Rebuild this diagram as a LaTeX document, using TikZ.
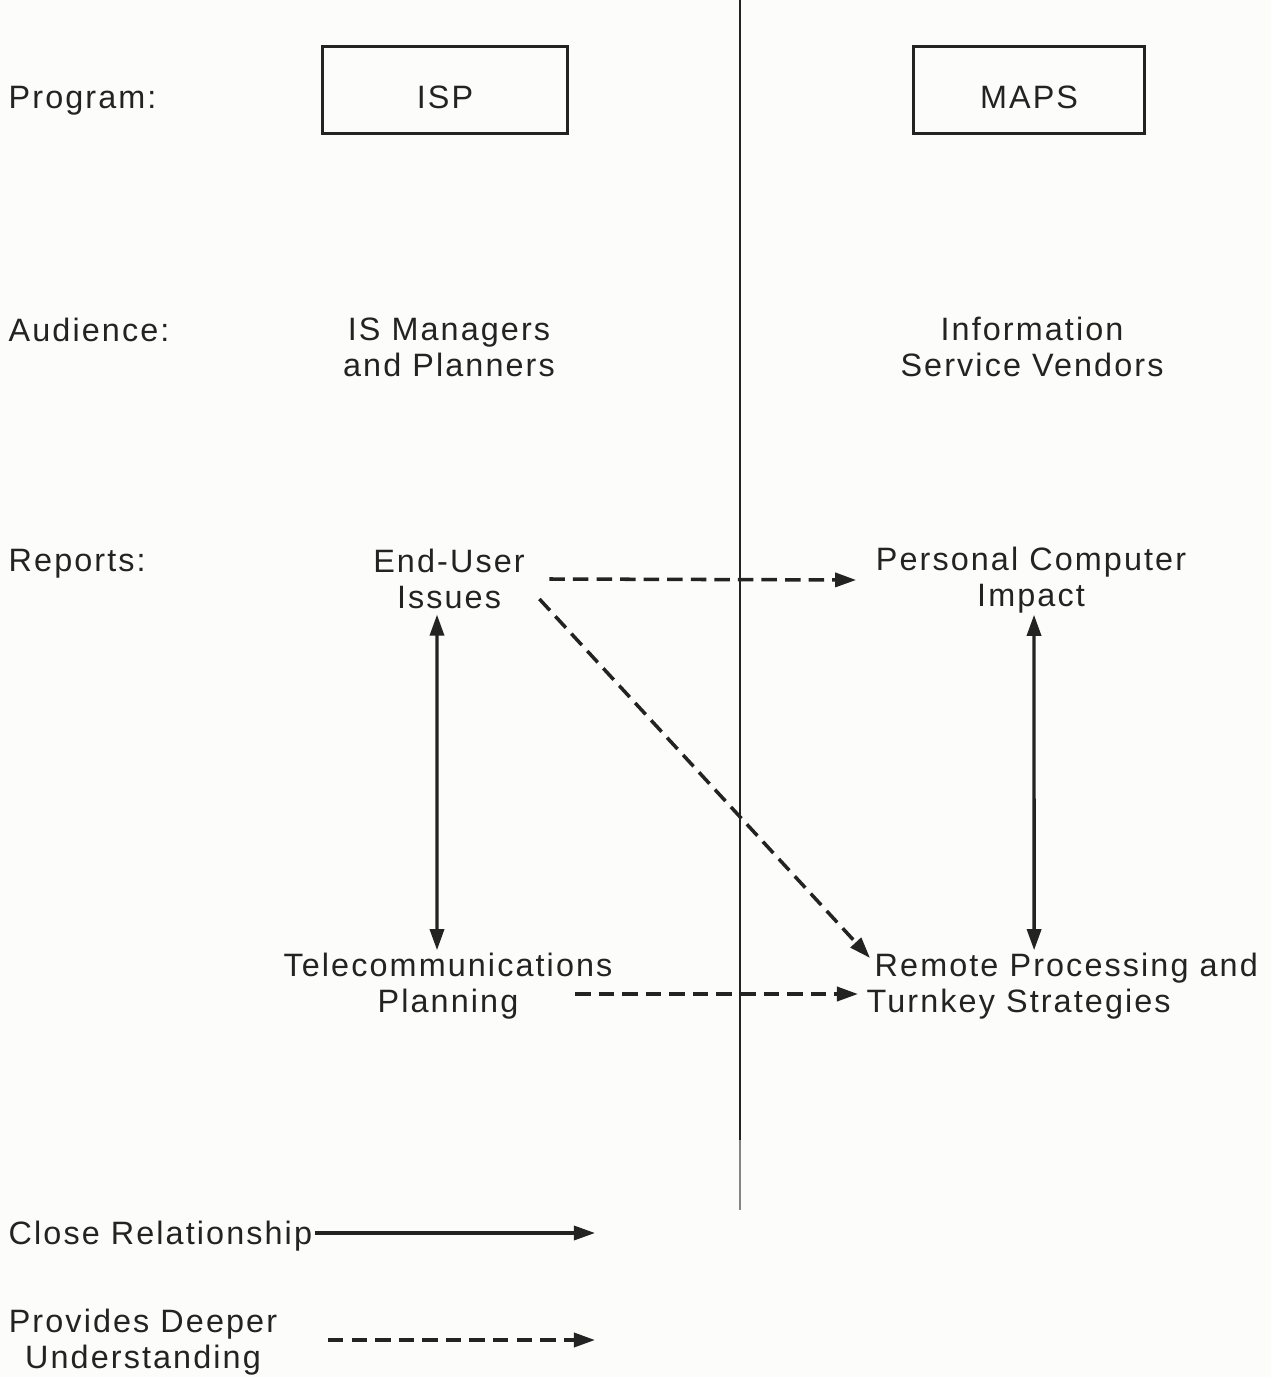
\documentclass[tikz,border=0pt]{standalone}
\usepackage{fontspec}
\setmainfont{Liberation Sans}[LetterSpace=6.5]
\usetikzlibrary{arrows.meta}
\definecolor{ink}{RGB}{35,35,35}
\definecolor{paper}{RGB}{252,252,250}
\tikzset{
  txt/.style={inner sep=0pt, text=ink, font=\fontsize{9.2pt}{10.24pt}\selectfont, align=center},
  lbl/.style={txt, anchor=west, align=left},
  progbox/.style={draw=ink, line width=0.85pt, inner sep=0pt, minimum height=0.87cm,
    text height=0.38cm, text depth=0cm, txt},
  tipA/.style={-{Triangle[length=6pt,width=4pt]}},
  tipAB/.style={{Triangle[length=6pt,width=4pt]}-{Triangle[length=6pt,width=4pt]}},
  closearrow/.style={draw=ink, line width=0.95pt},
  deeparrow/.style={draw=ink, line width=1pt, dash pattern=on 4.4pt off 2.3pt, tipA},
}
\begin{document}
\begin{tikzpicture}[x=0.01cm,y=-0.01cm]
  % page
  \fill[paper] (0,0) rectangle (1271,1377);
  \useasboundingbox (0,0) rectangle (1271,1377);

  % dividing line between the two programs
  \coordinate (divtop) at (740,0);
  \coordinate (divmid) at (740,1140);
  \coordinate (divbot) at (740,1210);
  \draw[ink, line width=0.6pt] (divtop) -- (divmid);
  \draw[ink!55, line width=0.6pt] (divmid) -- (divbot);

  % row labels
  \node[lbl] (lprog) at (8,101) {Program:};
  \node[lbl] (laud) at (8,330) {Audience:};
  \node[lbl] (lrep) at (8,564) {Reports:};

  % programs
  \node[progbox, minimum width=2.44cm] (isp) at (445,90) {ISP};
  \node[progbox, minimum width=2.30cm] (maps) at (1029,90) {MAPS};

  % audiences
  \node[txt] (aud1) at (449,347) {IS Managers\\and Planners};
  \node[txt] (aud2) at (1032,347) {Information\\Service Vendors};

  % reports
  \node[txt] (eu) at (449,579) {End-User\\Issues};
  \node[txt] (pc) at (1031,580) {Personal Computer\\Impact};
  \node[txt] (tp) at (448,986) {Telecommunications\\Planning};
  \node[txt, align=left, anchor=west] (rp) at (866,986) {\hspace*{0.08cm}Remote Processing and\\Turnkey Strategies};

  % relationships
  \draw[deeparrow] ([xshift=0.24cm]eu.east) -- ([xshift=-0.19cm]pc.west);
  \draw[deeparrow] ([xshift=0.14cm,yshift=-0.20cm]eu.east) -- ([xshift=0.04cm,yshift=0.28cm]rp.west);
  \draw[deeparrow] ([xshift=-0.38cm,yshift=-0.08cm]tp.east) -- ([xshift=-0.08cm,yshift=-0.08cm]rp.west);
  \draw[closearrow, tipAB]
    ([xshift=-0.12cm,yshift=-0.05cm]eu.south) -- ([xshift=-0.11cm,yshift=0.02cm]tp.north);
  \draw[closearrow, tipAB]
    ([xshift=0.03cm,yshift=-0.01cm]pc.south) -- ([xshift=1.68cm,yshift=0.02cm]rp.north west);

  % legend
  \node[lbl] (lclose) at (8,1236) {Close Relationship};
  \node[txt] (ldeep) at (143,1342) {Provides Deeper\\Understanding};
  \coordinate (closeend) at (595,1233);
  \coordinate (deepstart) at (328,1340);
  \coordinate (deepend) at (595,1340);
  \draw[closearrow, tipA] ([xshift=0.02cm]lclose.east |- closeend) -- (closeend);
  \draw[deeparrow] (deepstart) -- (deepend);
\end{tikzpicture}
\end{document}
